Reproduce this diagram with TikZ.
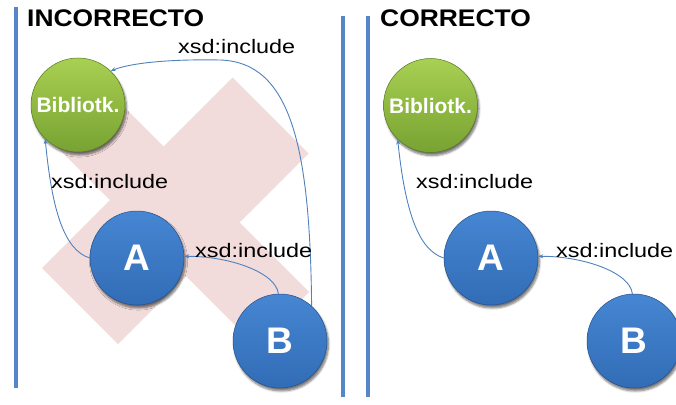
\documentclass[tikz,border=0pt]{standalone}
\usepackage{fontspec}
\setmainfont{Liberation Sans}
\newfontfamily\lblfont[FakeStretch=1.2]{Liberation Sans}
\newfontfamily\ttlfont[FakeStretch=1.1]{Liberation Sans}
\usetikzlibrary{arrows.meta,shadows.blur}

\definecolor{rule}{RGB}{84,134,200}
\definecolor{link}{RGB}{79,129,189}
\definecolor{crosspink}{RGB}{242,220,219}
\definecolor{blueTop}{RGB}{70,134,210}
\definecolor{blueBot}{RGB}{50,108,182}
\definecolor{blueRim}{RGB}{36,80,140}
\definecolor{greenTop}{RGB}{168,208,82}
\definecolor{greenBot}{RGB}{120,162,50}
\definecolor{greenRim}{RGB}{86,120,34}

\tikzset{
  panelrule/.style={draw=rule, line width=3.5pt},
  ttl/.style={anchor=base west, inner sep=0pt, font=\ttlfont\bfseries\fontsize{24}{26}\selectfont},
  lbl/.style={anchor=base west, inner sep=0pt, font=\lblfont\fontsize{19.5}{22}\selectfont},
  ball/.style={circle, minimum size=94pt, inner sep=0pt, text=white,
    line width=0.5pt,
    blur shadow={shadow xshift=1.5pt, shadow yshift=-3pt, shadow blur steps=6, shadow opacity=55}},
  libnode/.style={ball, top color=greenTop, bottom color=greenBot, draw=greenRim,
    font=\bfseries\fontsize{21}{24}\selectfont},
  docnode/.style={ball, top color=blueTop, bottom color=blueBot, draw=blueRim,
    font=\bfseries\fontsize{37}{40}\selectfont},
  conn/.style={draw=link, line width=0.9pt, -{Stealth[length=5pt,width=4pt]}}
}

\begin{document}
\begin{tikzpicture}[x=1pt, y=-1pt]
\useasboundingbox (0,0) rectangle (676,404);

% panel rules
\draw[panelrule] (16,7) -- (16,388);
\draw[panelrule] (343,16) -- (343,397);
\draw[panelrule] (368,16) -- (368,397);

% titles
\node[ttl] (t1) at (27,27) {INCORRECTO};
\node[ttl] (t2) at (380,27) {CORRECTO};

% the big pale cross behind the left diagram
\fill[crosspink] (232.5,77.5) -- (308.5,153.5) -- (118,344) -- (42,268) -- cycle;
\fill[crosspink] (94.5,77.5) -- (309,292) -- (255.5,345.5) -- (41,131) -- cycle;

% left diagram
\node[libnode] (bibL) at (78,105) {Bibliotk.};
\node[docnode] (aL) at (137,258) {A};
\node[docnode] (bL) at (280,341) {B};

\draw[conn] (bL.48) .. controls (310,150) and (292,62) .. (220,60)
                    .. controls (170,59) and (130,63) .. (bibL.46);
\draw[conn] (aL.180) .. controls (64,250) and (52,210) .. (bibL.226);
\draw[conn] (bL.92) .. controls (276,272) and (228,256) .. (aL.2);

\node[lbl] (l1) at (178,53) {xsd:include};
\node[lbl] (l2) at (51,188) {xsd:include};
\node[lbl] (l3) at (195,257) {xsd:include};

% right diagram
\node[libnode] (bibR) at (430.5,105.5) {Bibliotk.};
\node[docnode] (aR) at (491,258) {A};
\node[docnode] (bR) at (634,341) {B};

\draw[conn] (aR.180) .. controls (418,250) and (405,210) .. (bibR.226);
\draw[conn] (bR.92) .. controls (630,272) and (582,256) .. (aR.2);

\node[lbl] (r1) at (416,188) {xsd:include};
\node[lbl] (r2) at (556,257) {xsd:include};
\end{tikzpicture}
\end{document}
